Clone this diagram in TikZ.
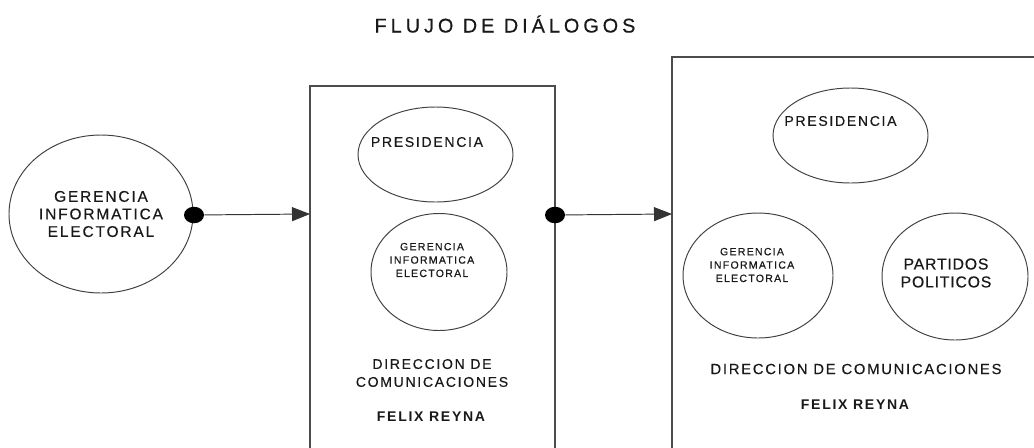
\documentclass[tikz,border=0pt]{standalone}
\usepackage{fontspec}
\setmainfont{Liberation Sans}[LetterSpace=12, FakeBold=0.4]
\newfontfamily\heavysp{Liberation Sans Bold}[LetterSpace=12]
\usepackage{tikz}
\usetikzlibrary{shapes.geometric, arrows.meta, positioning}

\tikzset{
	org/.style 2 args={draw=black!75, line width=0.55pt, ellipse, inner sep=0pt,
		minimum width=#1*0.02cm, minimum height=#2*0.02cm},
	dot/.style={fill=black, ellipse, inner sep=0pt, minimum width=0.4cm, minimum height=0.33cm},
	lbl/.style={font=\fontsize{8}{9.9}\selectfont, text=black!90, align=center, inner sep=0pt},
	tiny/.style={font=\fontsize{6}{7.6}\selectfont, text=black!90, align=center, inner sep=0pt},
	boss/.style={font=\fontsize{8}{10}\selectfont\heavysp, text=black!90, inner sep=0pt},
	flow/.style={draw=black!80, line width=0.55pt, -{Triangle[length=0.36cm, width=0.28cm]}},
	frame/.style={draw=black!70, line width=0.6pt}
}

\begin{document}
\begin{tikzpicture}[x=0.02cm, y=-0.02cm]

	\clip (0,0) rectangle (1034,447);

	\node [font=\fontsize{11.3}{13}\selectfont\addfontfeatures{LetterSpace=20}, text=black!90, inner sep=0pt] (title) at (505,24) {FLUJO DE DIÁLOGOS};

	% origen
	\node [org={184}{158}] (gie) at (101,214) {};
	\node [lbl, font=\fontsize{8.8}{10}\selectfont] (gietxt) at (101,214) {GERENCIA\\INFORMATICA\\ELECTORAL};

	% primer dialogo
	\draw [frame] (310,460) -- (310,86) -- (555,86) -- (555,460);
	\node [org={155}{95}] (pres1) at (435.5,154.5) {};
	\node [lbl] (pres1txt) at (427,142) {PRESIDENCIA};
	\node [org={136}{117}] (gie1) at (439,272) {};
	\node [tiny] (gie1txt) at (432,260) {GERENCIA\\INFORMATICA\\ELECTORAL};
	\node [lbl, font=\fontsize{8}{10.2}\selectfont] (dir1) at (432,373) {DIRECCION DE\\COMUNICACIONES};
	\node [boss] (jefe1) at (431,417) {FELIX REYNA};

	% segundo dialogo
	\draw [frame] (672,460) -- (672,57) -- (1040,57);
	\node [org={155}{95}] (pres2) at (850.5,135.5) {};
	\node [lbl] (pres2txt) at (840.5,121) {PRESIDENCIA};
	\node [org={150}{125}] (gie2) at (758,275.5) {};
	\node [tiny] (gie2txt) at (752,265) {GERENCIA\\INFORMATICA\\ELECTORAL};
	\node [org={146}{127}] (part) at (955,276.5) {};
	\node [lbl, font=\fontsize{9}{10.2}\selectfont\addfontfeatures{LetterSpace=5}] (parttxt) at (946,273) {PARTIDOS\\POLITICOS};
	\node [lbl, font=\fontsize{8.4}{10}\selectfont] (dir2) at (856,369) {DIRECCION DE COMUNICACIONES};
	\node [boss] (jefe2) at (855,405) {FELIX REYNA};

	% flujo
	\node [dot] (d1) at (194,215) {};
	\node [dot] (d2) at (555,215) {};
	\coordinate (in1) at (310,214);
	\coordinate (in2) at (672,214);
	\draw [flow] (d1) -- (in1);
	\draw [flow] (d2) -- (in2);

\end{tikzpicture}
\end{document}
